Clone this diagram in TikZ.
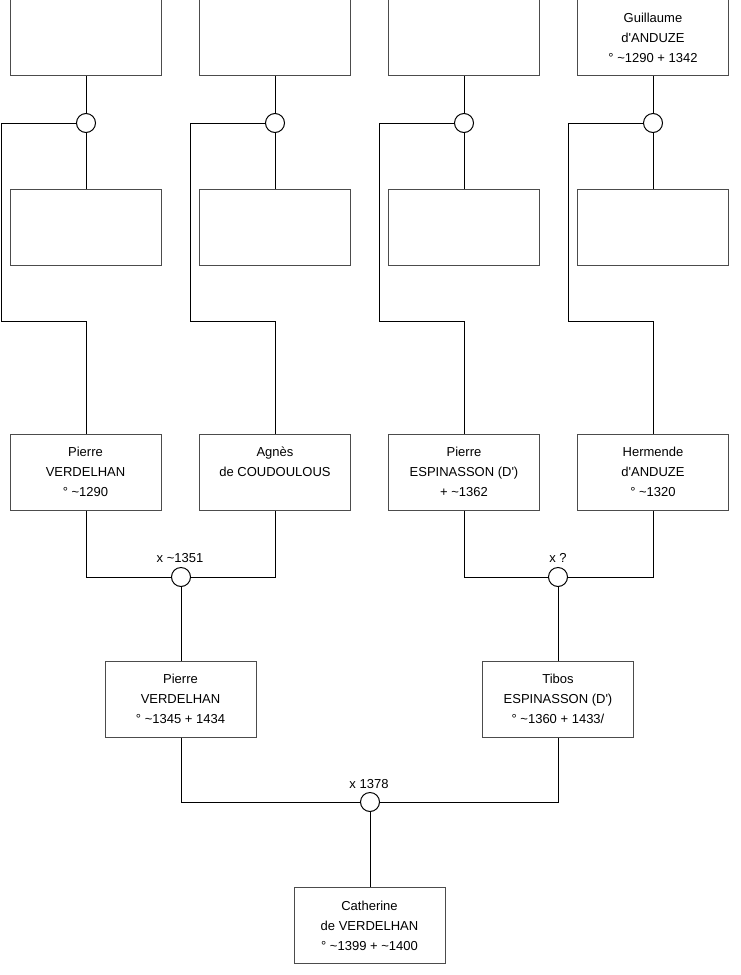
\documentclass[tikz,border=0pt]{standalone}
\usepackage{fontspec}
\setmainfont{Liberation Sans}[Ligatures=TeXOff]
\begin{document}
\begin{tikzpicture}[x=1pt,y=-1pt,
  person/.style={draw=black!70, line width=1pt, fill=white, minimum width=151pt, minimum height=76pt, inner sep=0pt, align=center, font=\fontsize{13}{20}\selectfont},
  union/.style={circle, draw=black, line width=1pt, fill=white, minimum size=19pt, inner sep=0pt},
  link/.style={draw=black, line width=1pt},
  lbl/.style={font=\fontsize{13}{16}\selectfont, inner sep=0pt}]
\fill[white] (0,0) rectangle (740,975);
\useasboundingbox (0,0) rectangle (740,975);
% top row
\node[person] (t1) at (85.5,37.5) {};
\node[person] (t2) at (275,37.5) {};
\node[person] (t3) at (464,37.5) {};
\node[person] (t4) at (653,37.5) {Guillaume\\d'ANDUZE\\° \textasciitilde 1290 + 1342};
% unions row 1
\node[union] (u1) at (86,123) {};
\node[union] (u2) at (275,123) {};
\node[union] (u3) at (464,123) {};
\node[union] (u4) at (653,123) {};
% second row
\node[person] (s1) at (85.5,227) {};
\node[person] (s2) at (275,227) {};
\node[person] (s3) at (464,227) {};
\node[person] (s4) at (653,227) {};
% third row
\node[person] (p1) at (85.5,472) {Pierre\\VERDELHAN\\° \textasciitilde 1290};
\node[person] (p2) at (275,472) {Agnès\\de COUDOULOUS\\ };
\node[person] (p3) at (464,472) {Pierre\\ESPINASSON (D')\\+ \textasciitilde 1362};
\node[person] (p4) at (653,472) {Hermende\\d'ANDUZE\\° \textasciitilde 1320};
% couples row 3
\node[union] (u5) at (181,577) {};
\node[union] (u6) at (558,577) {};
\node[lbl] (l5) at (180,558) {x \textasciitilde 1351};
\node[lbl] (l6) at (558,558) {x ?};
% fourth row
\node[person] (q1) at (180.5,699) {Pierre\\VERDELHAN\\° \textasciitilde 1345 + 1434};
\node[person] (q2) at (558,699) {Tibos\\ESPINASSON (D')\\° \textasciitilde 1360 + 1433/};
\node[union] (u7) at (370,802) {};
\node[lbl] (l7) at (369,784) {x 1378};
% bottom
\node[person] (c) at (369.5,925.5) {Catherine\\de VERDELHAN\\° \textasciitilde 1399 + \textasciitilde 1400};
% connectors top
\foreach \i/\x in {1/1,2/190,3/379,4/568}{
  \draw[link] (u\i.north) -- (u\i.north |- t\i.south);
  \draw[link] (u\i.south) -- (u\i.south |- s\i.north);
  \draw[link] (u\i.west) -- (\x,123) -- (\x,321) -| (u\i.south |- p\i.north);
}
% couples
\draw[link] (u1.south |- p1.south) |- (u5.west);
\draw[link] (u5.east) -| (u2.south |- p2.south);
\draw[link] (u5.south) -- (u5.south |- q1.north);
\draw[link] (u3.south |- p3.south) |- (u6.west);
\draw[link] (u6.east) -| (u4.south |- p4.south);
\draw[link] (u6.south) -- (q2.north);
\draw[link] (u5.south |- q1.south) |- (u7.west);
\draw[link] (u7.east) -| (q2.south);
\draw[link] (u7.south) -- (u7.south |- c.north);
\end{tikzpicture}
\end{document}
